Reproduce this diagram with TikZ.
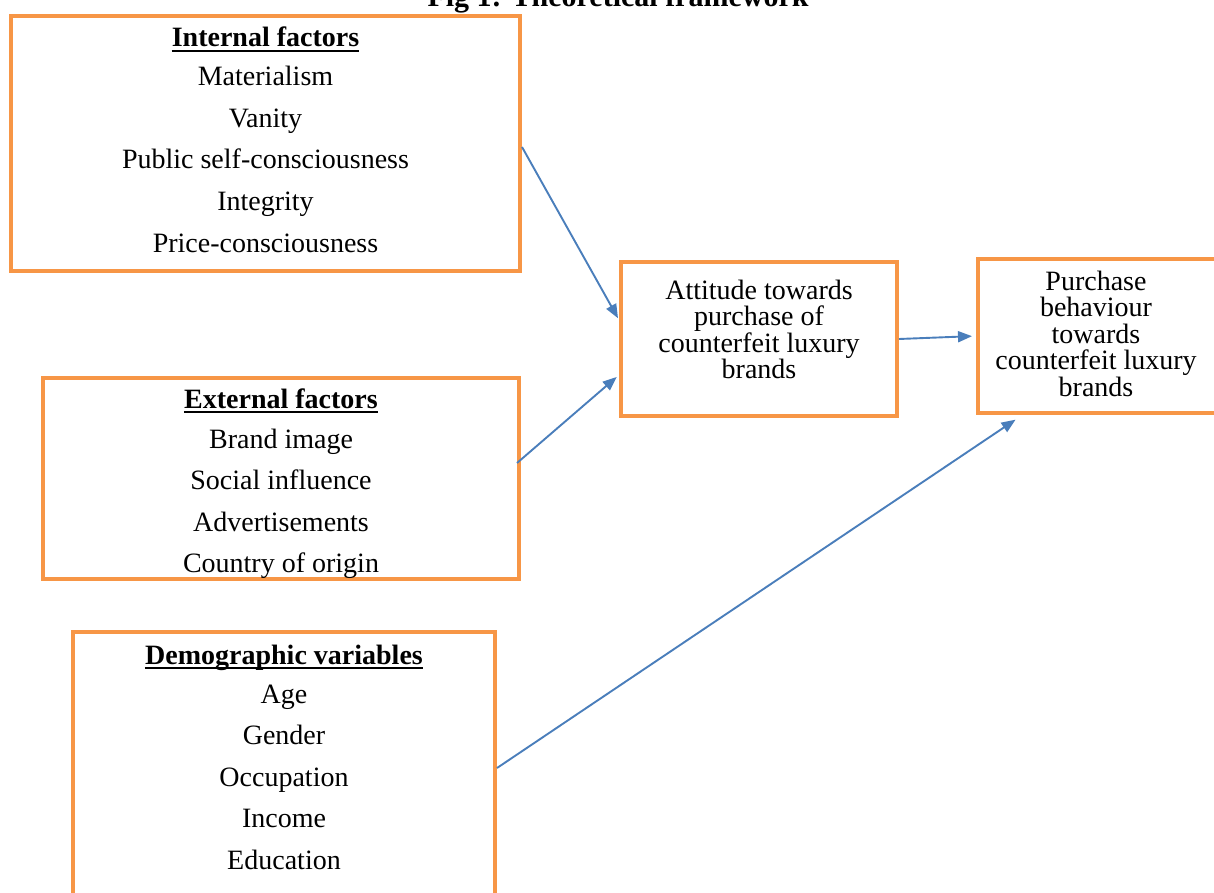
\documentclass[tikz,border=0pt]{standalone}
\usepackage{fontspec}
\setmainfont{Liberation Serif}
\usetikzlibrary{arrows.meta,calc}
\definecolor{boxorange}{HTML}{F79646}
\definecolor{arrblue}{HTML}{4A7EBB}
\begin{document}
\begin{tikzpicture}[x=1pt,y=-1pt,
  frame/.style={draw=boxorange, line width=4pt, fill=white, inner sep=0pt},
  txt/.style={anchor=base, inner sep=0pt, font=\fontsize{28}{33}\selectfont},
  head/.style={txt, font=\bfseries\fontsize{28}{33}\selectfont},
  uline/.style={line width=1.6pt},
  arr/.style={draw=arrblue, line width=1.9pt, -{Triangle[length=14pt,width=11pt]}}]
\useasboundingbox (0,0) rectangle (1214,893);
\clip (0,0) rectangle (1214,893);
% title
\node[anchor=base, inner sep=0pt, font=\bfseries\fontsize{30}{36}\selectfont] (title) at (618,7) {Fig 1: Theoretical framework};
% boxes
\node[frame, minimum width=509, minimum height=255] (int) at (265.5,143.5) {};
\node[frame, minimum width=476, minimum height=201] (ext) at (281,478.5) {};
\node[frame, minimum width=422, minimum height=272] (dem) at (284,768) {};
\node[frame, minimum width=276, minimum height=154] (att) at (759,339) {};
\node[frame, minimum width=240, minimum height=154] (pur) at (1098,336) {};
% internal factors
\node[head] (i0) at (265.5,47) {Internal factors};
\draw[uline] ([yshift=-4pt]i0.base west) -- ([yshift=-4pt]i0.base east);
\node[txt] (i1) at (265.5,86) {Materialism};
\node[txt] (i2) at (265.5,127.5) {Vanity};
\node[txt] (i3) at (265.5,169) {Public self-consciousness};
\node[txt] (i4) at (265.5,210.5) {Integrity};
\node[txt] (i5) at (265.5,252) {Price-consciousness};
% external factors
\node[head] (e0) at (281,408) {External factors};
\draw[uline] ([yshift=-4pt]e0.base west) -- ([yshift=-4pt]e0.base east);
\node[txt] (e1) at (281,448) {Brand image};
\node[txt] (e2) at (281,489.5) {Social influence};
\node[txt] (e3) at (281,531) {Advertisements};
\node[txt] (e4) at (281,572.5) {Country of origin};
% demographic variables
\node[head] (d0) at (284,664) {Demographic variables};
\draw[uline] ([yshift=-4pt]d0.base west) -- ([yshift=-4pt]d0.base east);
\node[txt] (d1) at (284,703) {Age};
\node[txt] (d2) at (284,744.5) {Gender};
\node[txt] (d3) at (284,786) {Occupation};
\node[txt] (d4) at (284,827.5) {Income};
\node[txt] (d5) at (284,869) {Education};
% attitude
\node[txt] (a1) at (759,299) {Attitude towards};
\node[txt] (a2) at (759,325.5) {purchase of};
\node[txt] (a3) at (759,352) {counterfeit luxury};
\node[txt] (a4) at (759,378.5) {brands};
% purchase behaviour
\node[txt] (p1) at (1096,290) {Purchase};
\node[txt] (p2) at (1096,316.5) {behaviour};
\node[txt] (p3) at (1096,343) {towards};
\node[txt] (p4) at (1096,369.5) {counterfeit luxury};
\node[txt] (p5) at (1096,396) {brands};
% arrows
\draw[arr, shorten >=2pt] ([yshift=-3.5pt]int.east) -- ([yshift=19pt]att.west);
\draw[arr, shorten >=3pt] ([xshift=-4pt,yshift=15.5pt]ext.east) -- ([yshift=-36pt]att.west);
\draw[arr, shorten >=4pt] (att.east) -- (pur.west);
\draw[arr, shorten >=3pt] (dem.east) -- ([xshift=42pt,yshift=-3pt]pur.south west);
\end{tikzpicture}
\end{document}
